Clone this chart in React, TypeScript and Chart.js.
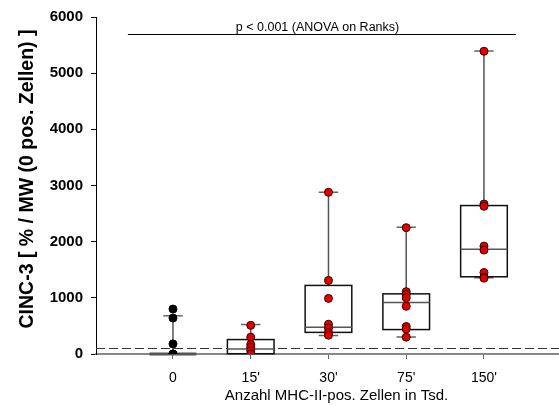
import React, { useEffect, useRef } from "react";
import { Chart, registerables } from "chart.js";

Chart.register(...registerables);

const categories = ["0", "15'", "30'", "75'", "150'"];
const values0 = [800, 640, 180, 0, 0, 0];
const values15 = [510, 300, 170, 120, 60, 0];
const values30 = [2880, 1310, 990, 530, 460, 385, 335];
const values75 = [2250, 1110, 1060, 1000, 850, 490, 445, 300];
const values150 = [5390, 2670, 2630, 1920, 1850, 1450, 1370, 1350];
const groupValues = [values0, values15, values30, values75, values150];

const boxQ1 = [0, 5, 385, 435, 1375];
const boxMedian = [0, 90, 477, 917, 1865];
const boxQ3 = [0, 257, 1221, 1071, 2643];
const whiskerLow = [0, 0, 330, 304, 1357];
const whiskerHigh = [680, 524, 2882, 2257, 5393];

const yTicks = [0, 1000, 2000, 3000, 4000, 5000, 6000];
const referenceLevel = 100;
const sigLevel = 5700;
const sigFrom = -0.58;
const sigTo = 4.41;
const sigText = "p < 0.001 (ANOVA on Ranks)";
const xTitle = "Anzahl MHC-II-pos. Zellen in Tsd.";
const yTitle = "CINC-3 [ % / MW (0 pos. Zellen) ]";

const FONT = "'Liberation Sans', Arial, sans-serif";

const boxPlugin = {
  id: "boxPlugin",
  beforeDatasetsDraw(chart: any) {
    const ctx = chart.ctx;
    const xs = chart.scales.x;
    const ys = chart.scales.y;
    const area = chart.chartArea;
    ctx.save();
    // dashed reference line
    ctx.strokeStyle = "#333";
    ctx.lineWidth = 1;
    ctx.setLineDash([9, 4]);
    const yr = Math.round(ys.getPixelForValue(referenceLevel)) + 0.5;
    ctx.beginPath();
    ctx.moveTo(area.left, yr);
    ctx.lineTo(area.right, yr);
    ctx.stroke();
    ctx.setLineDash([]);

    categories.forEach((_, i) => {
      const cx = xs.getPixelForValue(i);
      const half = xs.getPixelForValue(i + 0.3) - cx;
      const capHalf = xs.getPixelForValue(i + 0.125) - cx;
      const pQ1 = ys.getPixelForValue(boxQ1[i]);
      const pQ3 = ys.getPixelForValue(boxQ3[i]);
      const pMed = ys.getPixelForValue(boxMedian[i]);
      const pLo = ys.getPixelForValue(whiskerLow[i]);
      const pHi = ys.getPixelForValue(whiskerHigh[i]);
      // whiskers
      ctx.strokeStyle = "#555";
      ctx.lineWidth = 1.5;
      ctx.beginPath();
      ctx.moveTo(cx, pQ3);
      ctx.lineTo(cx, pHi);
      ctx.moveTo(cx, pQ1);
      ctx.lineTo(cx, pLo);
      ctx.stroke();
      ctx.strokeStyle = "#666";
      ctx.beginPath();
      ctx.moveTo(cx - capHalf, pHi);
      ctx.lineTo(cx + capHalf, pHi);
      if (whiskerLow[i] > 0) {
        ctx.moveTo(cx - capHalf, pLo);
        ctx.lineTo(cx + capHalf, pLo);
      }
      ctx.stroke();
      // box
      ctx.fillStyle = "#fff";
      if (pQ1 - pQ3 > 1) ctx.fillRect(cx - half, pQ3, half * 2, pQ1 - pQ3);
      ctx.strokeStyle = boxQ3[i] === boxQ1[i] ? "#555" : "#111";
      ctx.lineWidth = boxQ3[i] === boxQ1[i] ? 3 : 1.5;
      ctx.strokeRect(cx - half, pQ3, half * 2, pQ1 - pQ3);
      ctx.strokeStyle = "#555";
      ctx.lineWidth = 1.5;
      ctx.beginPath();
      ctx.moveTo(cx - half, pMed);
      ctx.lineTo(cx + half, pMed);
      ctx.stroke();
    });

    // significance bar
    const ys1 = Math.round(ys.getPixelForValue(sigLevel)) + 0.5;
    const x1 = xs.getPixelForValue(sigFrom);
    const x2 = xs.getPixelForValue(sigTo);
    ctx.strokeStyle = "#000";
    ctx.lineWidth = 1.2;
    ctx.beginPath();
    ctx.moveTo(x1, ys1);
    ctx.lineTo(x2, ys1);
    ctx.stroke();
    ctx.fillStyle = "#000";
    ctx.font = `12.5px ${FONT}`;
    ctx.textAlign = "center";
    ctx.textBaseline = "alphabetic";
    ctx.fillText(sigText, 317.5, 30.5);
    ctx.restore();
  },
  afterDraw(chart: any) {
    const ctx = chart.ctx;
    ctx.save();
    ctx.fillStyle = "#000";
    ctx.textAlign = "center";
    ctx.textBaseline = "alphabetic";
    ctx.font = `15px ${FONT}`;
    ctx.fillText(xTitle, 336.5, 400);
    ctx.translate(33, 179);
    ctx.rotate(-Math.PI / 2);
    ctx.font = `bold 19.5px ${FONT}`;
    ctx.fillText(yTitle, 0, 0);
    ctx.restore();
  },
};

export default function App() {
  const ref = useRef<HTMLCanvasElement | null>(null);
  useEffect(() => {
    document.body.style.margin = "0";
    if (!ref.current) return;
    const datasets = groupValues.map((vals, i) => ({
      label: categories[i],
      data: vals.map((v) => ({ x: i, y: v })),
      pointRadius: 4,
      pointBackgroundColor: i === 0 ? "#000" : "#e00000",
      pointBorderColor: i === 0 ? "#000" : "#3a0000",
      pointBorderWidth: 1,
      showLine: false,
    }));
    const chart = new Chart(ref.current, {
      type: "scatter",
      data: { datasets },
      plugins: [boxPlugin],
      options: {
        responsive: false,
        animation: false,
        layout: { autoPadding: false, padding: { top: 17, right: 0, left: 0, bottom: 0 } },
        plugins: { legend: { display: false }, tooltip: { enabled: false } },
        scales: {
          x: {
            type: "linear",
            min: -0.99,
            max: 4.965,
            afterBuildTicks: (scale: any) => {
              scale.ticks = categories.map((_, i) => ({ value: i }));
            },
            afterFit: (scale: any) => {
              scale.height = 52;
              scale.paddingLeft = 0;
              scale.paddingRight = 0;
            },
            ticks: {
              callback: (v: any) => categories[v] ?? "",
              font: { family: FONT, size: 14 },
              color: "#000",
              padding: 11,
              maxRotation: 0,
              autoSkip: false,
            },
            grid: {
              display: true,
              drawOnChartArea: false,
              drawTicks: true,
              tickLength: 5,
              color: "#666",
            },
            border: { color: "#888", width: 2 },
          },
          y: {
            min: 0,
            max: 6000,
            afterBuildTicks: (scale: any) => {
              scale.ticks = yTicks.map((v) => ({ value: v }));
            },
            afterFit: (scale: any) => {
              scale.width = 96;
            },
            ticks: {
              callback: (v: any) => String(v),
              font: { family: FONT, size: 15, weight: "bold" },
              color: "#000",
              padding: 8,
            },
            grid: {
              display: true,
              drawOnChartArea: false,
              drawTicks: true,
              tickLength: 5,
              color: "#000",
            },
            border: { color: "#000", width: 1 },
          },
        },
      },
    });
    return () => chart.destroy();
  }, []);
  return <canvas ref={ref} width={559} height={406} style={{ display: "block" }} />;
}
